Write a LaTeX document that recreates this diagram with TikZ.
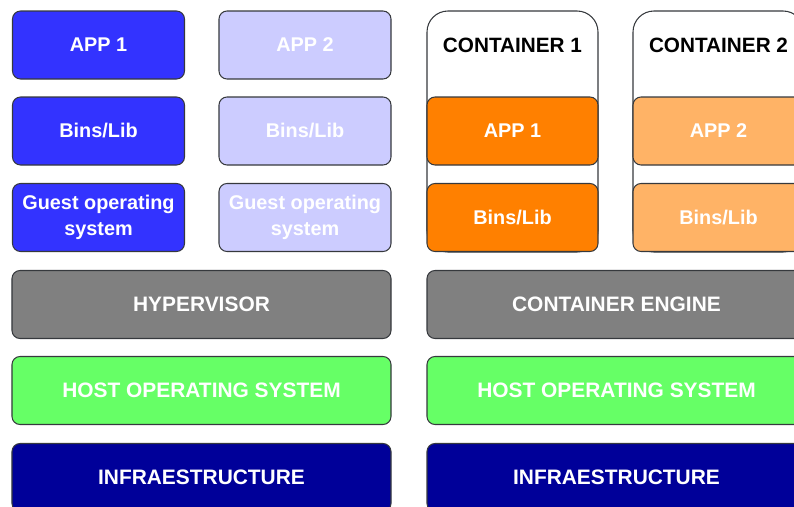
\documentclass[tikz,border=0pt]{standalone}
\usepackage{fontspec}
\setmainfont{Liberation Sans}
\usetikzlibrary{positioning}
\definecolor{vmblue}{HTML}{3333FF}
\definecolor{vmpale}{HTML}{CCCCFF}
\definecolor{ctorange}{HTML}{FF8000}
\definecolor{ctpale}{HTML}{FFB366}
\definecolor{engray}{HTML}{808080}
\definecolor{hostgreen}{HTML}{66FF66}
\definecolor{infrablue}{HTML}{000099}
\definecolor{edge}{HTML}{36393D}

\begin{document}
\begin{tikzpicture}[font=\fontsize{11.3}{14.8}\selectfont\bfseries,
  layer/.style={draw=edge, line width=0.6pt, rounded corners=0.16cm,
    text=white, align=center, minimum width=3.44cm,
    minimum height=1.36cm, inner sep=0pt},
  wide/.style={layer, minimum width=7.58cm,
    font=\fontsize{11.9}{14.8}\selectfont\bfseries},
  shell/.style={draw=edge, line width=0.6pt, rounded corners=0.42cm,
    minimum width=3.42cm, minimum height=4.82cm, inner sep=0pt},
  shellname/.style={font=\fontsize{11.8}{14.8}\selectfont\bfseries}]
  \useasboundingbox (0,0) rectangle (15.88,10.12);
  \clip (0,0) rectangle (15.88,10.12);
  %% Left: virtual machines
  \node[layer, fill=vmblue] (vmapp1) at (1.97,9.22) {APP 1};
  \node[layer, fill=vmblue] (vmbins1) at (1.97,7.50) {Bins/Lib};
  \node[layer, fill=vmblue] (guest1) at (1.97,5.77)
    {Guest operating\\system};
  \node[layer, fill=vmpale] (vmapp2) at (6.10,9.22) {APP 2};
  \node[layer, fill=vmpale] (vmbins2) at (6.10,7.50) {Bins/Lib};
  \node[layer, fill=vmpale] (guest2) at (6.10,5.77)
    {Guest operating\\system};
  %% Left: shared layers
  \node[wide, fill=engray] (hyper) at (4.03,4.03) {HYPERVISOR};
  \node[wide, fill=hostgreen] (hostvm) at (4.03,2.31)
    {HOST OPERATING SYSTEM};
  \node[wide, fill=infrablue] (infravm) at (4.03,0.57) {INFRAESTRUCTURE};

  %% Right: containers
  \node[shell] (cont1) at (10.25,7.49) {};
  \node[shellname] (cont1name) at (10.25,9.22) {CONTAINER 1};
  \node[layer, fill=ctorange, minimum width=3.42cm] (ctapp1)
    at (10.25,7.50) {APP 1};
  \node[layer, fill=ctorange, minimum width=3.42cm] (ctbins1)
    at (10.25,5.77) {Bins/Lib};
  \node[shell] (cont2) at (14.37,7.49) {};
  \node[shellname] (cont2name) at (14.37,9.22) {CONTAINER 2};
  \node[layer, fill=ctpale, minimum width=3.42cm] (ctapp2)
    at (14.37,7.50) {APP 2};
  \node[layer, fill=ctpale, minimum width=3.42cm] (ctbins2)
    at (14.37,5.77) {Bins/Lib};
  %% Right: shared layers
  \node[wide, fill=engray] (engine) at (12.33,4.03) {CONTAINER ENGINE};
  \node[wide, fill=hostgreen] (hostct) at (12.33,2.31)
    {HOST OPERATING SYSTEM};
  \node[wide, fill=infrablue] (infract) at (12.33,0.57) {INFRAESTRUCTURE};
\end{tikzpicture}
\end{document}
